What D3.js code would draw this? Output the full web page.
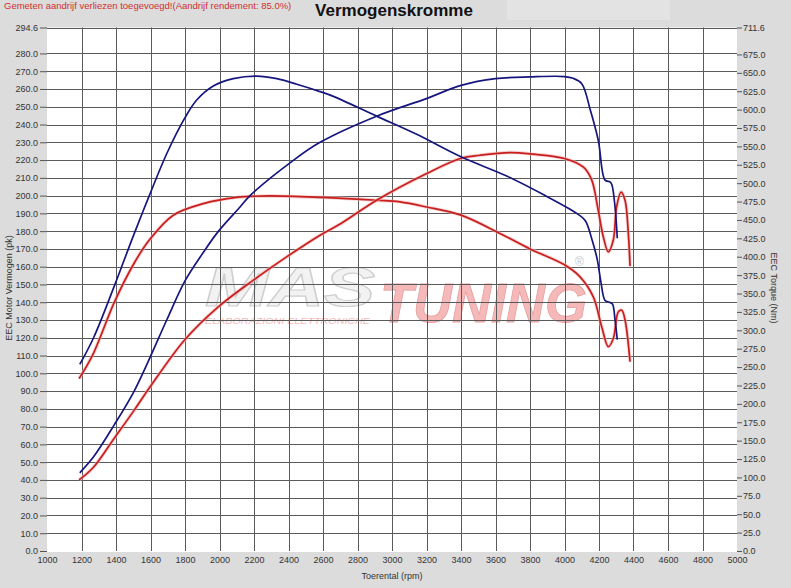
<!DOCTYPE html>
<html>
<head>
<meta charset="utf-8">
<script src="https://cdn.jsdelivr.net/npm/d3@7"></script>
<style>
  body { margin: 0; background: #dcdcdc; }
  text { font-family: Arial, "Liberation Sans", sans-serif; }
</style>
</head>
<body>
<svg id="chart"></svg>
<script>

// rpm ticks
var rpmTicks = [1000,1200,1400,1600,1800,2000,2200,2400,2600,2800,3000,3200,3400,3600,3800,4000,4200,4400,4600,4800,5000];
// left axis ticks (pk)
var pkTicks = [0,10,20,30,40,50,60,70,80,90,100,110,120,130,140,150,160,170,180,190,200,210,220,230,240,250,260,270,280,294.6];
// right axis ticks (Nm)
var nmTicks = [0,25,50,75,100,125,150,175,200,225,250,275,300,325,350,375,400,425,450,475,500,525,550,575,600,625,650,675,711.6];

// tuned power (pk)
var tunedPowerRpm = [1190,1270,1390,1500,1593,1694,1800,1906,1991,2119,2177,2430,2583,2911,3199,3400,3600,3800,4000,4050,4100,4150,4196,4235,4264,4275,4293,4306];
var tunedPower    = [44,53,71,89,108,130,152,168,179.6,193.6,200,220,230,244.7,254.6,262,265.8,266.8,267,266,263,248,231,208.7,207.7,206,193.6,176];

// tuned torque (Nm)
var tunedTorqueRpm = [1190,1270,1390,1500,1593,1694,1800,1868,1964,2080,2216,2332,2448,2583,2660,2911,3143,3400,3665,3877,4071,4120,4160,4190,4210,4235,4260,4278,4293,4306];
var tunedTorque    = [253.6,289.9,360,428,483,540,589,613,632,642.0,645.4,642.0,634.5,624.5,618.0,591.1,566.4,535.8,509.7,484.5,458.9,449.3,422.7,396.1,367.2,340.6,338.2,335.8,314.0,287.4];

// stock power (pk)
var stockPowerRpm = [1186,1268,1390,1504,1593,1800,1993,2196,2389,2583,2699,2911,3201,3400,3510,3684,3819,4000,4110,4158,4192,4225,4254,4283,4302,4328,4351,4370,4380];
var stockPower    = [40,47,63.5,79,91.7,119,137.4,152.4,165.5,177.7,184,197.4,212.4,221,222.7,224.2,223.3,220.9,216,208.7,193.6,176.8,168.3,175,193.6,202,197.4,178.7,160.3];

// stock torque (Nm)
var stockTorqueRpm = [1186,1268,1390,1504,1593,1732,1906,2099,2283,2583,2911,3046,3201,3400,3626,3800,4000,4090,4167,4216,4254,4283,4312,4332,4351,4380];
var stockTorque    = [234.3,268.1,338.0,390.8,422.7,456.5,472.2,480.7,482.6,480.7,476.8,474.6,467.6,456.5,431.6,410.6,389.0,372.7,345.4,304.4,277.8,288.9,325.1,327.3,314.0,257.3];

var W = 791, H = 588;
var plotL = 47, plotR = 737, plotT = 27.5, plotB = 551;

var svg = d3.select("#chart")
    .attr("width", W)
    .attr("height", H);

svg.append("rect")
   .attr("width", W).attr("height", H)
   .attr("fill", "#dcdcdc");

// slightly lighter box behind the title
svg.append("rect")
   .attr("x", 507).attr("y", 0).attr("width", 163).attr("height", 20)
   .attr("fill", "#e4e3e3");

var x = d3.scaleLinear().domain([1000, 5000]).range([plotL, plotR]);
var yL = d3.scaleLinear().domain([0, 294.6]).range([plotB, plotT]);
var yR = d3.scaleLinear().domain([0, 711.6]).range([plotB, plotT]);

// plot area
svg.append("rect")
   .attr("x", plotL).attr("y", plotT)
   .attr("width", plotR - plotL).attr("height", plotB - plotT + 1)
   .attr("fill", "#ffffff");

// watermark
var wm = svg.append("g").attr("opacity", 0.55);
wm.append("text")
  .attr("x", 205).attr("y", 306)
  .attr("font-size", 56).attr("font-weight", "bold").attr("font-style", "italic")
  .attr("fill", "#e8e8e8").attr("stroke", "#a8a8a8").attr("stroke-width", 1.2)
  .attr("textLength", 170).attr("lengthAdjust", "spacingAndGlyphs")
  .text("MAS");
wm.append("text")
  .attr("x", 380).attr("y", 322)
  .attr("font-size", 56).attr("font-weight", "bold").attr("font-style", "italic")
  .attr("fill", "#f08080").attr("stroke", "#d05050").attr("stroke-width", 0.8)
  .attr("textLength", 207).attr("lengthAdjust", "spacingAndGlyphs")
  .text("TUNING");
wm.append("text")
  .attr("x", 205).attr("y", 324)
  .attr("font-size", 9).attr("font-style", "italic")
  .attr("fill", "#f08080")
  .attr("textLength", 165).attr("lengthAdjust", "spacingAndGlyphs")
  .text("ELABORAZIONI ELETTRONICHE");
wm.append("text")
  .attr("x", 575).attr("y", 266)
  .attr("font-size", 12).attr("fill", "#999")
  .text("\u00AE");

// horizontal grid
svg.append("g")
   .selectAll("line")
   .data(pkTicks.filter(function(d){ return d > 0; }))
   .enter().append("line")
   .attr("x1", plotL).attr("x2", plotR)
   .attr("y1", function(d){ return Math.round(yL(d)) + 0.5; })
   .attr("y2", function(d){ return Math.round(yL(d)) + 0.5; })
   .attr("stroke", "#5a5a5a").attr("stroke-width", 1);

// vertical grid
svg.append("g")
   .selectAll("line")
   .data(rpmTicks.slice(1, -1))
   .enter().append("line")
   .attr("x1", function(d){ return Math.round(x(d)) + 0.5; })
   .attr("x2", function(d){ return Math.round(x(d)) + 0.5; })
   .attr("y1", plotT).attr("y2", plotB)
   .attr("stroke", "#5a5a5a").attr("stroke-width", 1);

// Add left axis
var axL = svg.append("g")
   .attr("transform", "translate(" + plotL + ",0)")
   .call(d3.axisLeft(yL).tickValues(pkTicks).tickSize(7).tickPadding(2)
         .tickFormat(d3.format(".1f")));

// Add right axis
var axR = svg.append("g")
   .attr("transform", "translate(" + plotR + ",0)")
   .call(d3.axisRight(yR).tickValues(nmTicks).tickSize(5).tickPadding(1)
         .tickFormat(d3.format(".1f")));

// Add bottom axis
var axB = svg.append("g")
   .attr("transform", "translate(0," + plotB + ")")
   .call(d3.axisBottom(x).tickValues(rpmTicks).tickSize(0).tickPadding(6)
         .tickFormat(d3.format("d")));

[axL, axR, axB].forEach(function(a){
  a.select(".domain").remove();
  a.selectAll("line").attr("stroke", "#555");
  a.selectAll("text").attr("font-size", 9).attr("fill", "#333")
   .attr("font-family", "Arial, 'Liberation Sans', sans-serif");
});

// curves
var lineL = d3.line()
    .x(function(d){ return x(d[0]); })
    .y(function(d){ return yL(d[1]); })
    .curve(d3.curveCatmullRom.alpha(0.5));
var lineR = d3.line()
    .x(function(d){ return x(d[0]); })
    .y(function(d){ return yR(d[1]); })
    .curve(d3.curveCatmullRom.alpha(0.5));

function zip(a, b){ return a.map(function(v, i){ return [v, b[i]]; }); }

var red = "#c81e1e", blue = "#16167e";

var series = [
  {pts: zip(stockTorqueRpm, stockTorque), line: lineR, color: red},
  {pts: zip(stockPowerRpm, stockPower), line: lineL, color: red},
  {pts: zip(tunedTorqueRpm, tunedTorque), line: lineR, color: blue},
  {pts: zip(tunedPowerRpm, tunedPower), line: lineL, color: blue}
];

series.forEach(function(s){
  if (s.color === red) {
    // soft halo round the red lines
    svg.append("path")
       .attr("d", s.line(s.pts))
       .attr("fill", "none")
       .attr("stroke", "#f3b0b0")
       .attr("stroke-width", 3.5)
       .attr("opacity", 0.6);
  }
  svg.append("path")
     .attr("d", s.line(s.pts))
     .attr("fill", "none")
     .attr("stroke", s.color)
     .attr("stroke-width", 1.7);
});

// titles
svg.append("text")
   .attr("x", 4).attr("y", 9)
   .attr("font-size", 9.5).attr("fill", "#d03030")
   .text("Gemeten aandrijf verliezen toegevoegd!(Aandrijf rendement: 85.0%)");

svg.append("text")
   .attr("x", 394).attr("y", 16)
   .attr("text-anchor", "middle")
   .attr("font-size", 17).attr("font-weight", "bold").attr("fill", "#111")
   .text("Vermogenskromme");

svg.append("text")
   .attr("x", 392).attr("y", 579)
   .attr("text-anchor", "middle")
   .attr("font-size", 9).attr("fill", "#333")
   .text("Toerental (rpm)");

svg.append("text")
   .attr("transform", "translate(12,288) rotate(-90)")
   .attr("text-anchor", "middle")
   .attr("font-size", 9).attr("fill", "#333")
   .text("EEC Motor Vermogen (pk)");

svg.append("text")
   .attr("transform", "translate(771,288) rotate(90)")
   .attr("text-anchor", "middle")
   .attr("font-size", 9).attr("fill", "#333")
   .text("EEC Torque (Nm)");

</script>
</body>
</html>
